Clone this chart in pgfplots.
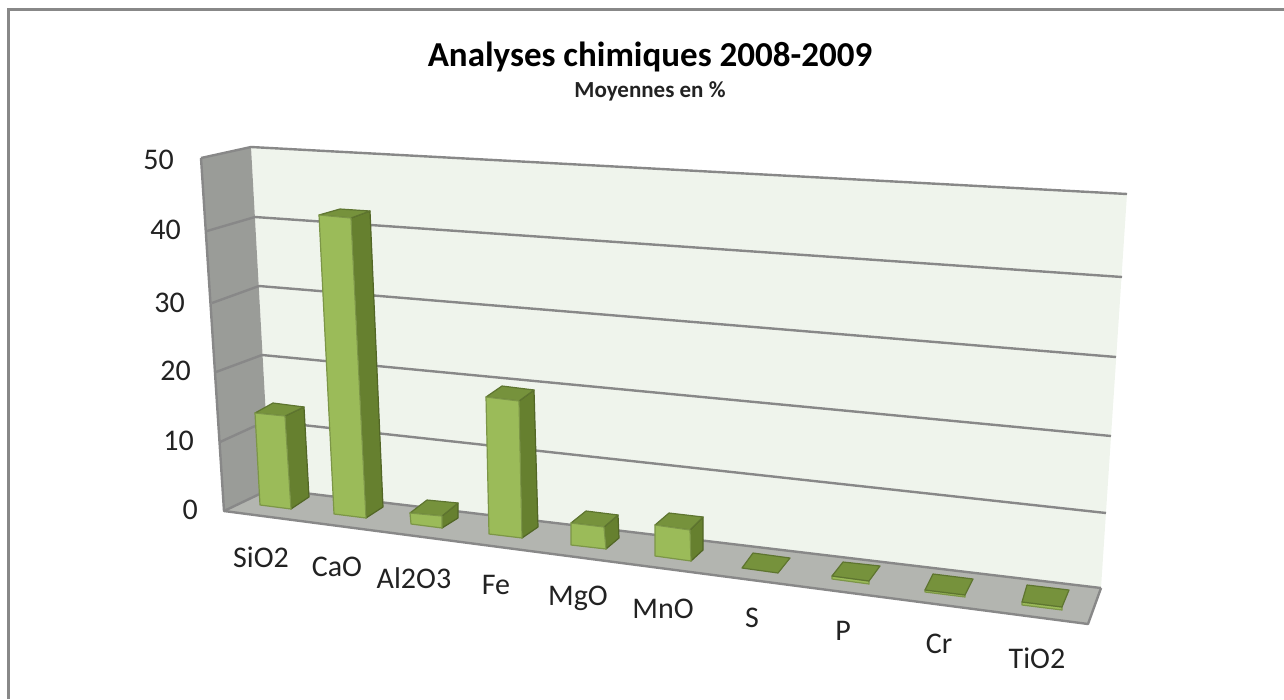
\documentclass[border=0pt]{standalone}
\usepackage{fontspec}
\setmainfont{Carlito}
\usepackage{pgfplots}
\pgfplotsset{compat=1.18}
\definecolor{front}{HTML}{9BBB59}
\definecolor{side}{HTML}{66802F}
\definecolor{topc}{HTML}{76923C}
\definecolor{backw}{HTML}{EFF4EC}
\definecolor{leftw}{HTML}{9A9C98}
\definecolor{floorc}{HTML}{B3B5B0}
\definecolor{gridc}{HTML}{888888}
\definecolor{framec}{HTML}{888888}
\definecolor{txt}{HTML}{222222}
% one bar: front, side, top faces, in the picture's projected coordinates
\newcommand{\face}[2]{\addplot[fill=#1,draw=#1!80!black,line width=1.2pt,line join=round,mark=none] coordinates {#2} -- cycle;}
\newcommand{\gl}[1]{\addplot[draw=gridc,line width=2.4pt,line join=round,mark=none] coordinates {#1};}
\begin{document}
\begin{tikzpicture}[x=1pt,y=1pt]
\path[use as bounding box] (0,0) rectangle (1284,699);
\begin{axis}[at={(0,0)},anchor=south west,width=1284pt,height=699pt,scale only axis,
  xmin=0,xmax=1284,ymin=0,ymax=699,y dir=reverse,hide axis,clip=false]
% walls and floor
\addplot[fill=backw,draw=none,mark=none] coordinates {(251,147)(1127,194)(1101,588)(270,489)} -- cycle;
\addplot[fill=leftw,draw=none,mark=none] coordinates {(201,158)(251,147)(270,489)(224,511)} -- cycle;
\addplot[fill=floorc,draw=none,mark=none] coordinates {(224,511)(270,489)(1101,588)(1088,624)} -- cycle;
% grid: 50, 40, 30, 20, 10, 0
\gl{(201,158)(251,147)(1127,194)}
\gl{(207,231)(255,217)(1122,277)}
\gl{(212,303)(259,286)(1116,357)}
\gl{(216,372)(262,355)(1111,436)}
\gl{(220,442)(266,421)(1106,513)}
\gl{(224,511)(270,489)(1101,588)}
\gl{(201,158)(224,511)(1088,624)(1101,588)}
% SiO2
\face{side}{(285,416)(304,407)(309,497)(291,509)}
\face{topc}{(255,413)(273,403)(304,407)(285,416)}
\face{front}{(255,413)(285,416)(291,509)(260,505)}
% CaO
\face{side}{(351,218)(370,211)(383,507)(366,518)}
\face{topc}{(319,215)(340,209)(370,211)(351,218)}
\face{front}{(319,215)(351,218)(366,518)(334,514)}
% Al2O3
\face{side}{(442,516)(458,503)(458,518)(442,528)}
\face{topc}{(410,513)(427,500)(458,503)(442,516)}
\face{front}{(410,513)(442,516)(442,528)(411,524)}
% Fe
\face{side}{(519,401)(534,390)(538,527)(522,538)}
\face{topc}{(486,397)(502,386)(534,390)(519,401)}
\face{front}{(486,397)(519,401)(522,538)(489,534)}
% MgO
\face{side}{(604,527)(618,515)(619,538)(606,549)}
\face{topc}{(571,523)(586,511)(618,515)(604,527)}
\face{front}{(571,523)(604,527)(606,549)(571,545)}
% MnO
\face{side}{(690,530)(703,517)(703,550)(691,561)}
\face{topc}{(655,525)(669,513)(703,517)(690,530)}
\face{front}{(655,525)(690,530)(691,561)(655,556)}
% S
\face{topc}{(742,568)(753,553)(790,558)(778,573)}
% P
\face{front}{(832,576)(869,581)(869,584)(832,579)}
\face{topc}{(832,576)(843,562)(880,566)(869,581)}
% Cr
\face{front}{(925,590)(965,595)(965,597)(925,592)}
\face{topc}{(925,590)(933,574)(973,579)(965,595)}
% TiO2
\face{front}{(1022,602)(1062,607)(1062,610)(1022,605)}
\face{topc}{(1022,602)(1027,585)(1069,590)(1062,607)}
% frame
\addplot[draw=framec,line width=3pt,mark=none] coordinates {(8.7,699)(8.7,9.5)(1284,9.5)};
% texts
\node[font=\fontsize{35}{35}\selectfont\bfseries,text=black] at (axis cs:650,57) {Analyses chimiques 2008-2009};
\node[font=\fontsize{23}{23}\selectfont\bfseries,text=txt] at (axis cs:650,91) {Moyennes en \%};
\foreach \v/\xx/\yy in {50/174/160,40/181/230,30/185/303,20/191/371,10/194/441,0/198/510}{
  \edef\temp{\noexpand\node[font=\noexpand\fontsize{30}{30}\noexpand\selectfont,text=txt,anchor=east,inner sep=0pt] at (axis cs:\xx,\yy) {\v};}
  \temp}
\foreach \t/\xx/\yy in {SiO2/261/557,CaO/337/567,Al2O3/414/578,Fe/496/585,MgO/578/598,MnO/663/609,S/752/618,P/843/631,Cr/939/644,TiO2/1037/658}{
  \edef\temp{\noexpand\node[font=\noexpand\fontsize{30}{30}\noexpand\selectfont,text=txt] at (axis cs:\xx,\yy) {\t};}
  \temp}
\end{axis}
\end{tikzpicture}
\end{document}
